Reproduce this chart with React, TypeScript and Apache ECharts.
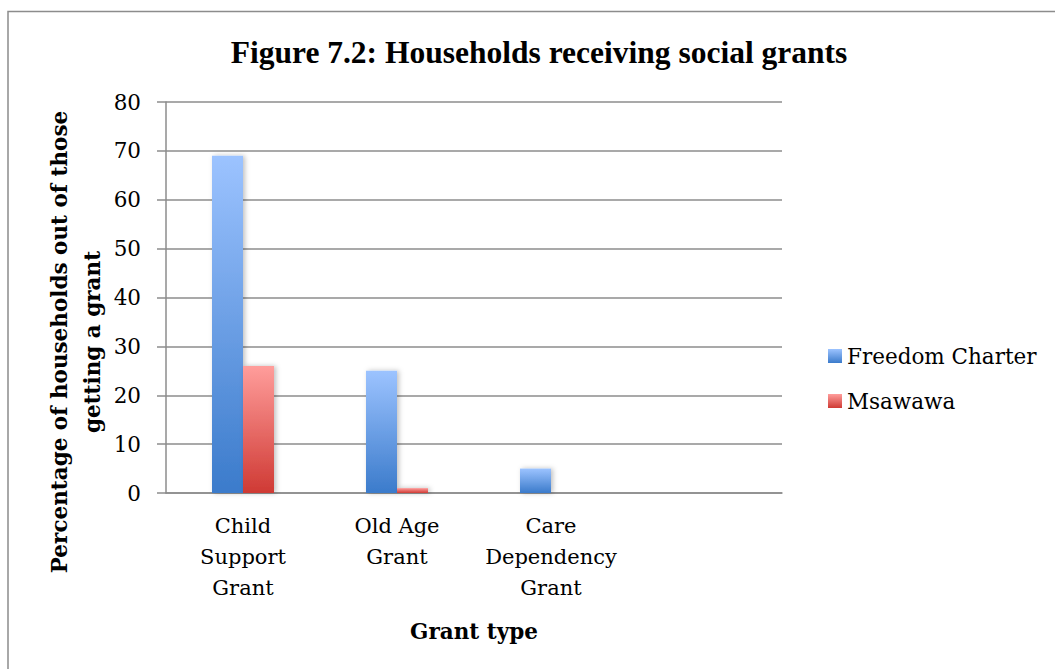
import React, { useEffect, useRef } from "react";
import * as echarts from "echarts";

const categories = ["Child\nSupport\nGrant", "Old Age\nGrant", "Care\nDependency\nGrant", ""];
const freedomCharter = [69, 25, 5, null];
const msawawa = [26, 1, 0, null];
const seriesNames = ["Freedom Charter", "Msawawa"];
const yTicks = { min: 0, max: 80, interval: 10 };
const titleText = "Figure 7.2: Households receiving social grants";
const yTitle = "Percentage of households out of those\ngetting a grant";
const xTitle = "Grant type";

const blueGrad = new echarts.graphic.LinearGradient(0, 0, 0, 1, [
  { offset: 0, color: "#9cc3ff" },
  { offset: 1, color: "#3b7bcb" },
]);
const redGrad = new echarts.graphic.LinearGradient(0, 0, 0, 1, [
  { offset: 0, color: "#ff9d9b" },
  { offset: 1, color: "#cf3a34" },
]);

const SERIF = "'DejaVu Serif', serif";

export default function App() {
  const ref = useRef<HTMLDivElement>(null);
  useEffect(() => {
    if (!ref.current) return;
    const chart = echarts.init(ref.current, undefined, { renderer: "svg" });
    chart.setOption({
      animation: false,
      backgroundColor: "#ffffff",
      grid: { left: 166, right: 273, top: 102, bottom: 176, containLabel: false },
      legend: {
        orient: "vertical",
        left: 823,
        top: 340,
        itemWidth: 14,
        itemHeight: 14,
        itemGap: 23,
        icon: "rect",
        data: seriesNames,
        textStyle: { fontFamily: SERIF, fontSize: 21.5, color: "#000", lineHeight: 22 },
      },
      xAxis: {
        type: "category",
        data: categories,
        axisLine: { show: true, lineStyle: { color: "#8c8c8c", width: 1.5 } },
        axisTick: { show: false },
        axisLabel: {
          interval: 0,
          margin: 17,
          fontFamily: SERIF,
          fontSize: 21,
          lineHeight: 31,
          color: "#000",
          align: "center",
        },
      },
      yAxis: {
        type: "value",
        min: yTicks.min,
        max: yTicks.max,
        interval: yTicks.interval,
        axisLine: { show: true, lineStyle: { color: "#8c8c8c", width: 1.5 } },
        axisTick: { show: true, length: 9, lineStyle: { color: "#8c8c8c", width: 1.5 } },
        splitLine: { show: true, lineStyle: { color: "#8c8c8c", width: 1.5 } },
        axisLabel: { margin: 25, fontFamily: SERIF, fontSize: 21.5, color: "#000" },
      },
      series: [
        {
          name: seriesNames[0],
          type: "bar",
          data: freedomCharter,
          barWidth: 31,
          barGap: "0%",
          itemStyle: {
            color: blueGrad,
            shadowColor: "rgba(0,0,0,0.25)",
            shadowBlur: 5,
            shadowOffsetX: 2,
            shadowOffsetY: 0,
          },
        },
        {
          name: seriesNames[1],
          type: "bar",
          data: msawawa,
          barWidth: 31,
          barGap: "0%",
          itemStyle: {
            color: redGrad,
            shadowColor: "rgba(0,0,0,0.25)",
            shadowBlur: 5,
            shadowOffsetX: 2,
            shadowOffsetY: 0,
          },
        },
      ],
      graphic: [
        {
          type: "rect",
          shape: { x: 8, y: 11.5, width: 1200, height: 800 },
          style: { fill: "none", stroke: "#8c8c8c", lineWidth: 1.5 },
          silent: true,
        },
        {
          type: "text",
          x: 539,
          y: 52,
          style: {
            text: titleText,
            font: "bold 31.5px 'Liberation Serif', serif",
            fill: "#000",
            textAlign: "center",
            textVerticalAlign: "middle",
          },
        },
        {
          type: "text",
          x: 76,
          y: 342,
          rotation: Math.PI / 2,
          style: {
            text: yTitle,
            font: `bold 21.5px ${SERIF}`,
            fill: "#000",
            textAlign: "center",
            textVerticalAlign: "middle",
            lineHeight: 33,
          },
        },
        {
          type: "text",
          x: 474,
          y: 631,
          style: {
            text: xTitle,
            font: `bold 21.5px ${SERIF}`,
            fill: "#000",
            textAlign: "center",
            textVerticalAlign: "middle",
          },
        },
      ],
    });
    return () => chart.dispose();
  }, []);
  return (
    <div
      ref={ref}
      style={{ position: "fixed", left: 0, top: 0, width: 1055, height: 669, background: "#fff" }}
    />
  );
}
